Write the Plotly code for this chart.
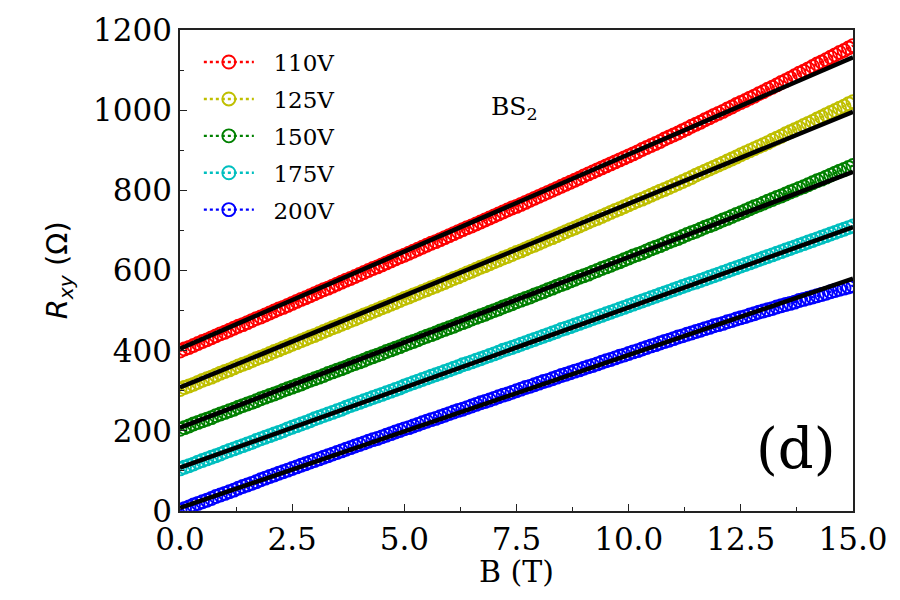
import plotly.graph_objects as go

# Magnetic field sweep (T), 0.1 T steps
B_T = [round(0.1 * i, 1) for i in range(151)]

labels = ["110V", "125V", "150V", "175V", "200V"]
colors = ["#ff0000", "#bfbf00", "#008000", "#00bfbf", "#0000ff"]

r_110 = [399,404,408,413,418,423,427,432,437,442,
         446,451,456,461,465,470,475,480,484,489,
         494,499,504,508,513,518,523,528,532,537,
         542,547,552,556,561,566,571,576,580,585,
         590,595,600,605,609,614,619,624,629,634,
         638,643,648,653,658,663,668,672,677,682,
         687,692,697,702,707,711,716,721,726,731,
         736,741,746,751,756,760,765,770,775,780,
         785,790,795,800,805,810,815,820,825,830,
         836,841,846,851,856,861,866,871,876,881,
         886,891,896,902,907,912,917,922,928,933,
         938,943,949,954,960,965,970,976,981,987,
         992,997,1003,1008,1014,1019,1024,1030,1035,1041,
         1046,1052,1057,1063,1069,1074,1080,1086,1092,1097,
         1103,1109,1115,1120,1126,1132,1138,1144,1149,1155,
         1161]

r_125 = [303,308,312,316,321,326,330,334,339,344,
         348,352,357,362,366,370,375,380,384,388,
         393,398,402,407,411,416,420,425,429,434,
         438,443,448,452,457,461,466,470,475,479,
         484,489,493,498,502,507,511,516,520,525,
         530,534,539,543,548,552,557,561,566,570,
         575,580,584,589,594,598,603,608,612,617,
         622,626,631,635,640,645,649,654,659,663,
         668,673,678,682,687,692,697,702,706,711,
         716,721,726,730,735,740,745,750,754,759,
         764,769,774,778,783,788,793,798,802,807,
         812,817,822,827,832,838,843,848,853,858,
         863,868,873,878,883,889,894,899,904,909,
         914,919,925,930,935,941,946,951,956,962,
         967,972,978,983,989,994,999,1005,1010,1016,
         1021]

r_150 = [204,208,212,217,221,225,229,233,238,242,
         246,250,254,259,263,267,271,275,280,284,
         288,292,296,301,305,309,313,317,322,326,
         330,334,338,343,347,351,355,359,364,368,
         372,376,381,385,389,393,398,402,406,410,
         415,419,423,427,432,436,440,444,449,453,
         457,461,466,470,474,479,483,487,491,496,
         500,504,509,513,517,522,526,530,534,539,
         543,547,552,556,561,565,569,574,578,583,
         587,591,596,600,605,609,613,618,622,627,
         631,636,640,644,649,654,658,662,667,672,
         676,680,685,690,694,698,703,708,712,716,
         721,726,730,735,740,744,749,754,759,763,
         768,773,777,782,786,791,796,800,805,809,
         814,819,824,828,833,838,843,848,852,857,
         862]

r_175 = [105,109,113,117,122,126,130,134,138,142,
         147,151,155,159,163,167,171,176,180,184,
         188,192,196,200,205,209,213,217,221,225,
         230,234,238,242,246,250,254,259,263,267,
         271,275,279,283,287,291,295,299,303,307,
         312,316,320,324,328,332,336,340,344,348,
         352,356,360,365,368,372,376,380,384,388,
         392,396,401,404,408,412,416,420,424,428,
         432,436,440,444,448,453,456,460,464,468,
         472,476,480,484,488,492,496,500,504,508,
         512,516,520,524,528,532,536,540,544,548,
         552,556,560,564,568,571,575,579,583,587,
         591,595,599,603,607,611,615,619,623,627,
         631,635,639,643,647,651,655,659,663,667,
         671,675,679,683,687,691,695,699,703,707,
         711]

r_200 = [2,6,10,15,19,23,27,31,36,40,
         44,48,52,57,61,65,69,73,78,82,
         86,90,94,98,102,106,110,114,118,122,
         126,130,134,138,142,146,150,154,158,162,
         166,170,174,178,181,185,189,193,197,201,
         205,208,212,216,220,224,228,231,235,239,
         243,247,251,254,258,262,266,270,273,277,
         281,285,289,292,296,300,304,308,311,315,
         319,323,326,330,334,338,341,345,349,352,
         356,360,363,367,371,375,378,382,386,389,
         393,397,400,404,408,412,415,419,423,426,
         430,434,437,441,444,448,451,455,458,462,
         465,468,472,475,479,482,485,489,492,496,
         499,502,505,509,512,515,518,521,525,528,
         531,534,537,540,543,547,550,553,556,559,
         562]

series = [r_110, r_125, r_150, r_175, r_200]

# Fit lines (black): values at B = 0 T and B = 15 T
fit_B = [0.0, 15.0]
fit_at_0 = [405, 308, 208, 108, 8]
fit_at_15 = [1132, 996, 846, 708, 580]

x_ticks = [0.0, 2.5, 5.0, 7.5, 10.0, 12.5, 15.0]
y_ticks = [0, 200, 400, 600, 800, 1000, 1200]

SERIF = "DejaVu Serif"
SANS = "DejaVu Sans"
NB = "\u00a0"

fig = go.Figure()

for i, (lab, col, vals) in enumerate(zip(labels, colors, series)):
    fig.add_trace(go.Scatter(
        x=B_T, y=vals, name=NB * 2 + lab, mode="lines+markers",
        line=dict(color=col, width=2.4, dash="dot"),
        marker=dict(symbol="circle-open", size=13, color=col,
                    line=dict(color=col, width=1.9)),
        legendgroup=lab,
    ))

for i in range(len(labels)):
    fig.add_trace(go.Scatter(
        x=fit_B, y=[fit_at_0[i], fit_at_15[i]], mode="lines",
        line=dict(color="black", width=4.5), showlegend=False,
        hoverinfo="skip",
    ))

axis_common = dict(
    showgrid=False, zeroline=False, showline=True, mirror=True,
    linecolor="#222222", linewidth=1.6,
    ticks="inside", ticklen=7, tickwidth=1.3, tickcolor="#222222",
    tickfont=dict(family=SERIF, size=31, color="black"),
)

fig.update_xaxes(
    range=[0, 15], tickvals=x_ticks,
    ticktext=[f"{v:.1f}" for v in x_ticks],
    minor=dict(ticks="inside", ticklen=4, tickwidth=1.1,
               tickcolor="#222222", dtick=1.25, tick0=0),
    **axis_common,
)
fig.update_yaxes(
    range=[0, 1200], tickvals=y_ticks,
    ticktext=[str(v) for v in y_ticks],
    minor=dict(ticks="inside", ticklen=4, tickwidth=1.1,
               tickcolor="#222222", dtick=100, tick0=0),
    **axis_common,
)

fig.update_layout(
    width=900, height=600,
    margin=dict(l=180, r=45, t=30, b=89),
    paper_bgcolor="white", plot_bgcolor="white",
    showlegend=True,
    legend=dict(
        x=0.028, y=0.978, xanchor="left", yanchor="top",
        font=dict(family=SERIF, size=23, color="black"),
        bgcolor="rgba(255,255,255,0)", borderwidth=0,
        tracegroupgap=4, itemwidth=50,
    ),
    annotations=[
        dict(xref="paper", yref="paper", x=0.5, y=-0.125,
             text="B (T)", showarrow=False,
             font=dict(family=SERIF, size=30, color="black"),
             xanchor="center", yanchor="middle"),
        dict(xref="paper", yref="paper", x=-0.18, y=0.5,
             text="<i>R</i><sub><i>xy</i></sub> (Ω)", showarrow=False,
             textangle=-90,
             font=dict(family=SANS, size=29, color="black"),
             xanchor="center", yanchor="middle"),
        dict(xref="x", yref="y", x=7.45, y=1005,
             text="BS<sub>2</sub>", showarrow=False,
             font=dict(family=SERIF, size=25, color="black"),
             xanchor="center", yanchor="middle"),
        dict(xref="x", yref="y", x=13.73, y=157,
             text="(d)", showarrow=False,
             font=dict(family=SERIF, size=56, color="black"),
             xanchor="center", yanchor="middle"),
    ],
)

fig.write_html("out.html")
